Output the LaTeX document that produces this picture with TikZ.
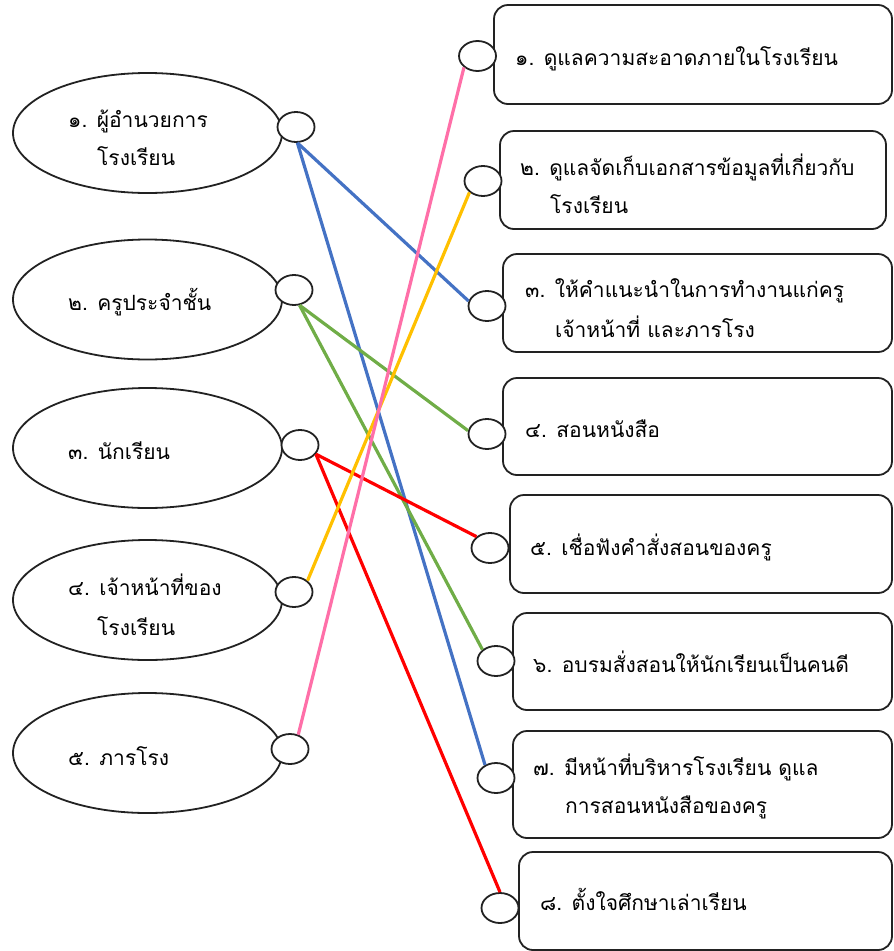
\documentclass[tikz,border=0pt]{standalone}
\usepackage{fontspec}
\newfontfamily\thaifont[Script=Thai]{Loma}
\usetikzlibrary{shapes.geometric}
\definecolor{cblue}{HTML}{4472C4}
\definecolor{cgreen}{HTML}{70AD47}
\definecolor{cred}{HTML}{FF0000}
\definecolor{cyellow}{HTML}{FFC000}
\definecolor{cpink}{HTML}{FF6FA8}
\definecolor{cline}{HTML}{222222}
\begin{document}
\begin{tikzpicture}[x=1pt,y=-1pt,
  lellipse/.style={draw=cline, line width=1.8pt, ellipse, minimum width=269pt, minimum height=120pt, inner sep=0pt},
  knob/.style={draw=cline, line width=1.8pt, ellipse, minimum width=37pt, minimum height=30pt, inner sep=0pt, fill=white},
  rbox/.style={draw=cline, line width=1.8pt, rectangle, rounded corners=14pt, inner sep=0pt},
  txt/.style={anchor=base west, inner sep=0pt, text=black, font=\thaifont\fontsize{21}{25}\selectfont},
  link/.style={line width=3.2pt}]
\useasboundingbox (0,0) rectangle (894,951);

% left ellipses
\node[lellipse] (E1) at (147.5,133) {};
\node[lellipse] (E2) at (147.5,299.5) {};
\node[lellipse] (E3) at (147.5,448) {};
\node[lellipse] (E4) at (147.5,600) {};
\node[lellipse] (E5) at (147.5,753) {};

% right boxes
\node[rbox, minimum width=398pt, minimum height=99pt] (B1) at (693,54.5) {};
\node[rbox, minimum width=386pt, minimum height=98pt] (B2) at (693,180) {};
\node[rbox, minimum width=389pt, minimum height=98pt] (B3) at (697.5,303) {};
\node[rbox, minimum width=389pt, minimum height=97pt] (B4) at (697.5,426.5) {};
\node[rbox, minimum width=382pt, minimum height=98pt] (B5) at (701,544) {};
\node[rbox, minimum width=379pt, minimum height=97pt] (B6) at (702.5,661.5) {};
\node[rbox, minimum width=379pt, minimum height=107pt] (B7) at (702.5,784.5) {};
\node[rbox, minimum width=373pt, minimum height=98pt] (B8) at (705.5,901) {};

% knobs
\node[knob] (L1) at (296,127) {};
\node[knob] (L2) at (294,290) {};
\node[knob] (L3) at (300,445) {};
\node[knob] (L4) at (294,592) {};
\node[knob] (L5) at (290,749) {};
\node[knob] (R1) at (477.5,56) {};
\node[knob] (R2) at (483,181) {};
\node[knob] (R3) at (487,306) {};
\node[knob] (R4) at (487,434) {};
\node[knob] (R5) at (490,548) {};
\node[knob] (R6) at (496,661) {};
\node[knob] (R7) at (496,778) {};
\node[knob] (R8) at (500,908) {};

% texts left
\node[txt] (T1a) at (68,127) {๑. ผู้อำนวยการ};
\node[txt] (T1b) at (97,165) {โรงเรียน};
\node[txt] (T2) at (68,310) {๒. ครูประจำชั้น};
\node[txt] (T3) at (68,459) {๓. นักเรียน};
\node[txt] (T4a) at (68,595) {๔. เจ้าหน้าที่ของ};
\node[txt] (T4b) at (97,635) {โรงเรียน};
\node[txt] (T5) at (68,765) {๕. ภารโรง};

% texts right
\node[txt] (S1) at (515,65) {๑. ดูแลความสะอาดภายในโรงเรียน};
\node[txt] (S2a) at (520,175) {๒. ดูแลจัดเก็บเอกสารข้อมูลที่เกี่ยวกับ};
\node[txt] (S2b) at (550,213) {โรงเรียน};
\node[txt] (S3a) at (525,297) {๓. ให้คำแนะนำในการทำงานแก่ครู};
\node[txt] (S3b) at (555,337) {เจ้าหน้าที่ และภารโรง};
\node[txt] (S4) at (525,437) {๔. สอนหนังสือ};
\node[txt] (S5) at (530,555) {๕. เชื่อฟังคำสั่งสอนของครู};
\node[txt] (S6) at (533,672) {๖. อบรมสั่งสอนให้นักเรียนเป็นคนดี};
\node[txt] (S7a) at (533,775) {๗. มีหน้าที่บริหารโรงเรียน ดูแล};
\node[txt] (S7b) at (565,813) {การสอนหนังสือของครู};
\node[txt] (S8) at (540,910) {๘. ตั้งใจศึกษาเล่าเรียน};

% connectors
\draw[link, cblue] (L1.-85) -- (R3.165);
\draw[link, cblue] (L1.-85) -- (R7.130);
\draw[link, cgreen] (L2.-70) -- (R4.170);
\draw[link, cgreen] (L2.-70) -- (R6.140);
\draw[link, cred] (L3.-30) -- (R5.140);
\draw[link, cred] (L3.-30) -- (R8.90);
\draw[link, cyellow] (L4.40) -- (R2.220);
\draw[link, cpink] (L5.60) -- (R1.220);
\end{tikzpicture}
\end{document}
